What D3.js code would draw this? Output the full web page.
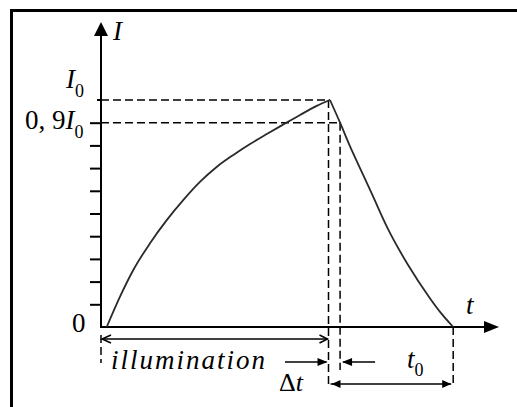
<!DOCTYPE html>
<html>
<head>
<meta charset="utf-8">
<script src="https://cdn.jsdelivr.net/npm/d3@7"></script>
<style>
  html, body { margin: 0; padding: 0; background: #fff; }
  svg { display: block; }
  svg text { font-family: "Liberation Serif", "DejaVu Serif", serif; }
</style>
</head>
<body>
<script>
// Photocurrent during illumination (rise) and after the light is switched off (decay).
// Time in arbitrary units (illumination ends at t = 100), current in units of I0.
const riseT  = [2.5, 8.3, 14.1, 21.4, 28.7, 35.9, 43.2, 50.5, 57.8, 65.1, 72.4, 79.6, 86.9, 94.2, 100];
const riseI  = [0, 0.1335, 0.251, 0.369, 0.471, 0.559, 0.639, 0.705, 0.758, 0.806, 0.850, 0.892, 0.934, 0.974, 1.0];
const decayT = [100, 104.4, 108.7, 113.1, 118.3, 125.3, 134.1, 143.7, 148.5, 153.8];
const decayI = [1.0, 0.90, 0.797, 0.700, 0.586, 0.432, 0.273, 0.126, 0.061, 0];

// Vertical axis divisions (fractions of I0)
const tickValues = [0.1, 0.2, 0.3, 0.4, 0.5, 0.6, 0.7, 0.8, 0.9];
const levelFull = 1.0;   // I0
const levelNinety = 0.9; // 0,9 I0

// Axis extents (arrow tips)
const tAxisMax = 173.8;
const iAxisMax = 1.344;

const W = 517, H = 407;
const svg = d3.select("body").append("svg")
  .attr("width", W).attr("height", H)
  .style("background", "#fff");

const x = d3.scaleLinear().domain([0, 100]).range([101, 330]);
const y = d3.scaleLinear().domain([0, 1]).range([327, 100]);

// outer frame
svg.append("rect")
  .attr("x", 11.5).attr("y", 10.5)
  .attr("width", 700).attr("height", 600)
  .attr("fill", "none").attr("stroke", "#000").attr("stroke-width", 3);

const x0 = x(0), y0 = y(0);
const tEnd = decayT[decayT.length - 1];
const tOff = riseT[riseT.length - 1];
const tCross = decayT[decayI.indexOf(levelNinety)];

// dashed guide lines
const dash = svg.append("g")
  .attr("stroke", "#000").attr("stroke-width", 1.5)
  .attr("stroke-dasharray", "8,4").attr("fill", "none");
dash.append("line").attr("x1", x0).attr("x2", x(tOff)).attr("y1", y(levelFull)).attr("y2", y(levelFull));
dash.append("line").attr("x1", x0).attr("x2", x(tCross)).attr("y1", y(levelNinety)).attr("y2", y(levelNinety));
dash.append("line").attr("x1", x(tOff) - 1.5).attr("x2", x(tOff) - 1.5).attr("y1", y(levelFull)).attr("y2", y0 + 60);
dash.append("line").attr("x1", x(tCross)).attr("x2", x(tCross)).attr("y1", y(levelNinety)).attr("y2", y0 + 43);
dash.append("line").attr("x1", x(tEnd)).attr("x2", x(tEnd)).attr("y1", y0).attr("y2", y0 + 60);
dash.append("line").attr("x1", x0).attr("x2", x0).attr("y1", y0 + 8).attr("y2", y0 + 36);

// axes
const yAxis = d3.axisLeft(y).tickValues(tickValues).tickSize(11).tickFormat("");
const gy = svg.append("g").attr("transform", `translate(${x0},0)`).call(yAxis);
gy.select(".domain").remove();
gy.selectAll(".tick line").attr("stroke", "#000").attr("stroke-width", 2);
svg.append("line").attr("x1", x0 - 4).attr("x2", x0).attr("y1", y(levelFull)).attr("y2", y(levelFull))
  .attr("stroke", "#000").attr("stroke-width", 2);

svg.append("line").attr("x1", x0).attr("x2", x0).attr("y1", y0 + 1).attr("y2", y(iAxisMax) + 8)
  .attr("stroke", "#000").attr("stroke-width", 2);
svg.append("line").attr("x1", x0 - 1).attr("x2", x(tAxisMax) - 8).attr("y1", y0).attr("y2", y0)
  .attr("stroke", "#000").attr("stroke-width", 2);

// arrow tips
const yt = y(iAxisMax), xt = x(tAxisMax);
svg.append("path").attr("d", `M${x0},${yt} L${x0 - 7},${yt + 14} L${x0 + 7},${yt + 14} Z`).attr("fill", "#000");
svg.append("path").attr("d", `M${xt},${y0} L${xt - 15},${y0 - 6} L${xt - 15},${y0 + 6} Z`).attr("fill", "#000");

// current curves
const line = d3.line().x(d => x(d[0])).y(d => y(d[1])).curve(d3.curveMonotoneX);
svg.append("path").datum(d3.zip(riseT, riseI)).attr("d", line)
  .attr("fill", "none").attr("stroke", "#2a2a2a").attr("stroke-width", 1.8);
svg.append("path").datum(d3.zip(decayT, decayI)).attr("d", line)
  .attr("fill", "none").attr("stroke", "#2a2a2a").attr("stroke-width", 1.8);

// annotation arrows below the time axis
const ann = svg.append("g").attr("stroke", "#000").attr("stroke-width", 1.5).attr("fill", "none");
const xOff = x(tOff) - 1.5;
const rowA = y0 + 12, rowB = y0 + 35, rowC = y0 + 57;
// illumination span
ann.append("line").attr("x1", x0 + 1).attr("x2", xOff - 1).attr("y1", rowA).attr("y2", rowA);
ann.append("path").attr("d", `M${x0 + 10},${rowA - 4} L${x0 + 1},${rowA} L${x0 + 10},${rowA + 4}`);
ann.append("path").attr("d", `M${xOff - 9},${rowA - 4} L${xOff - 1},${rowA} L${xOff - 9},${rowA + 4}`);
// Δt pointers
ann.append("line").attr("x1", 285).attr("x2", xOff - 2).attr("y1", rowB).attr("y2", rowB);
svg.append("path").attr("d", `M${xOff - 1},${rowB} L${xOff - 11},${rowB - 4} L${xOff - 11},${rowB + 4} Z`).attr("fill", "#000");
const xc = x(tCross);
ann.append("line").attr("x1", xc + 3).attr("x2", xc + 35).attr("y1", rowB).attr("y2", rowB);
svg.append("path").attr("d", `M${xc + 2},${rowB} L${xc + 12},${rowB - 4} L${xc + 12},${rowB + 4} Z`).attr("fill", "#000");
// t0 span
const xe = x(tEnd);
ann.append("line").attr("x1", xOff + 2).attr("x2", xe - 2).attr("y1", rowC).attr("y2", rowC);
svg.append("path").attr("d", `M${xOff + 3},${rowC} L${xOff + 12},${rowC - 4} L${xOff + 12},${rowC + 4} Z`).attr("fill", "#000");
svg.append("path").attr("d", `M${xe - 2},${rowC} L${xe - 11},${rowC - 4} L${xe - 11},${rowC + 4} Z`).attr("fill", "#000");

// labels
const label = (px, py, parts) => {
  const t = svg.append("text").attr("x", px).attr("y", py)
    .style("font-family", "'Liberation Serif', 'DejaVu Serif', serif").attr("fill", "#000");
  parts.forEach(p => {
    const s = t.append("tspan").text(p.s).attr("font-size", p.size || 27);
    if (p.it) s.attr("font-style", "italic");
    if (p.dy) s.attr("dy", p.dy);
  });
  return t;
};
label(113, 40, [{ s: "I", it: true }]);
label(66, y(levelFull) - 12, [{ s: "I", it: true }, { s: "0", size: 18, dy: 9 }]);
label(25, y(levelNinety) + 6, [{ s: "0, 9" }, { s: "I", it: true }, { s: "0", size: 18, dy: 9 }]);
label(72, y0 + 5, [{ s: "0" }]);
label(466, y0 - 13, [{ s: "t", it: true }]);
label(111, y0 + 42, [{ s: "illumination", it: true }]).attr("textLength", 154).attr("lengthAdjust", "spacing");
label(279, y0 + 64, [{ s: "Δ", size: 26 }, { s: "t", it: true, size: 26 }]);
label(407, y0 + 41, [{ s: "t", it: true }, { s: "0", size: 18, dy: 8 }]);
</script>
</body>
</html>
